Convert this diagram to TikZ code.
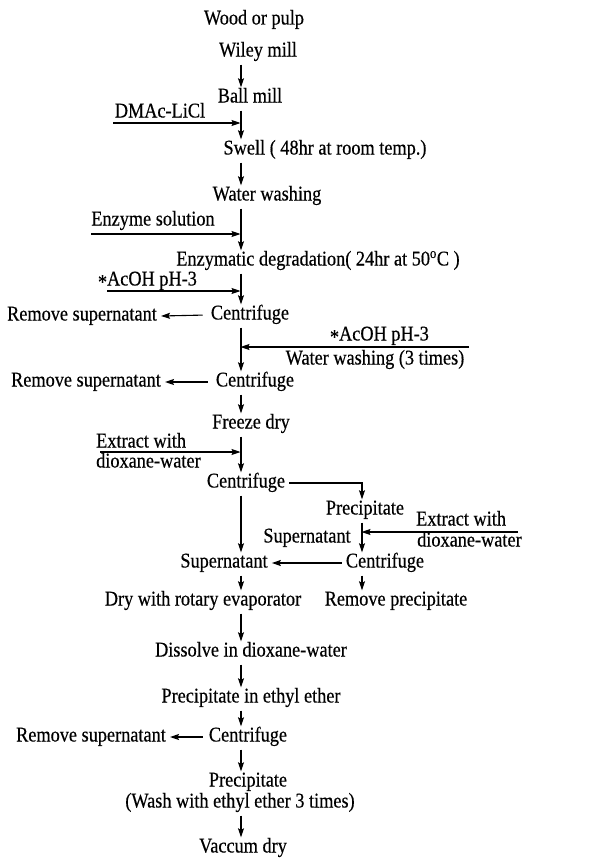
\documentclass[tikz,border=0pt]{standalone}
\usepackage{fontspec}
\setmainfont{Liberation Serif}[FakeStretch=0.87, FakeBold=0.4]
\usetikzlibrary{arrows.meta}
\tikzset{
  lbl/.style={inner xsep=4pt, inner ysep=4pt, text height=13pt, text depth=4pt},
  flow/.style={->, line width=1.1pt, shorten >=-2pt},
}
\newcommand{\lowstar}{\raisebox{-0.35ex}{*}}

\begin{document}
\begin{tikzpicture}[x=1pt, y=-1pt, >={Stealth[length=9pt,width=6pt,inset=1.5pt]},
    font=\fontsize{21}{24}\selectfont]
  \useasboundingbox (0,0) rectangle (606,859);
  \coordinate (ax) at (241,0);
  \coordinate (bx) at (362,0);

  % main line
  \node [lbl] (wood) at (254,20) {Wood or pulp};
  \node [lbl] (wiley) at (258,52) {Wiley mill};
  \node [lbl] (ball) at (250,98) {Ball mill};
  \node [lbl] (swell) at (325,150) {Swell ( 48hr at room temp.)};
  \node [lbl] (wash) at (267,196) {Water washing};
  \node [lbl] (degr) at (318,261) {Enzymatic degradation( 24hr at 50\textsuperscript{o}C )};
  \node [lbl] (c1) at (250,315) {Centrifuge};
  \node [lbl] (c2) at (255,382) {Centrifuge};
  \node [lbl] (freeze) at (251,424) {Freeze dry};
  \node [lbl] (c3) at (246,483) {Centrifuge};
  \node [lbl] (sup) at (224,563) {Supernatant};
  \node [lbl] (dry) at (203,601) {Dry with rotary evaporator};
  \node [lbl] (diss) at (251,652) {Dissolve in dioxane-water};
  \node [lbl] (pether) at (251,698) {Precipitate in ethyl ether};
  \node [lbl] (c5) at (248,737) {Centrifuge};
  \node [lbl] (prec2) at (248,782) {Precipitate};
  \node [lbl] (washee) at (240,803) {(Wash with ethyl ether 3 times)};
  \node [lbl] (vac) at (243,848) {Vaccum dry};

  % side branch
  \node [lbl] (prec) at (365,510) {Precipitate};
  \node [lbl] (supb) at (307,538) {Supernatant};
  \node [lbl] (c4) at (385,563) {Centrifuge};
  \node [lbl] (rmp) at (396,601) {Remove precipitate};

  % removed
  \node [lbl] (rm1) at (82,316) {Remove supernatant};
  \node [lbl] (rm2) at (86,382) {Remove supernatant};
  \node [lbl] (rm3) at (91,737) {Remove supernatant};

  % inputs
  \coordinate (dmacin) at (113,123);
  \node [lbl] (dmac) at (160,113) {DMAc-LiCl};
  \coordinate (enzin) at (91,234);
  \node [lbl] (enz) at (153,221) {Enzyme solution};
  \coordinate (acin) at (107,291);
  \node [lbl] (ac) at (152,281) {\llap{\lowstar}AcOH pH-3};
  \coordinate (acinb) at (469,347);
  \node [lbl] (acb) at (384,336) {\llap{\lowstar}AcOH pH-3};
  \node [lbl] (ww3) at (375,360) {Water washing (3 times)};
  \coordinate (extin) at (100,452);
  \node [lbl, anchor=west, inner xsep=0pt] (exta) at (96,443) {Extract with};
  \node [lbl, anchor=west, inner xsep=0pt] (extb) at (96,463) {dioxane-water};
  \coordinate (extinb) at (518,532);
  \node [lbl, anchor=west, inner xsep=0pt] (extc) at (416,521) {Extract with};
  \node [lbl, anchor=west, inner xsep=0pt] (extd) at (417,542) {dioxane-water};

  % arrows down
  \draw [flow] (wiley.south -| ax) -- (ball.north -| ax);
  \draw [flow] (ball.south -| ax) -- (swell.north -| ax);
  \draw [flow] (swell.south -| ax) -- (wash.north -| ax);
  \draw [flow] (wash.south -| ax) -- (degr.north -| ax);
  \draw [flow] (degr.south -| ax) -- (c1.north -| ax);
  \draw [flow] (c1.south -| ax) -- (c2.north -| ax);
  \draw [flow] (c2.south -| ax) -- (freeze.north -| ax);
  \draw [flow] (freeze.south -| ax) -- (c3.north -| ax);
  \draw [flow] (c3.south -| ax) -- (sup.north -| ax);
  \draw [flow] (sup.south -| ax) -- (dry.north -| ax);
  \draw [flow] (dry.south -| ax) -- (diss.north -| ax);
  \draw [flow] (diss.south -| ax) -- (pether.north -| ax);
  \draw [flow] (pether.south -| ax) -- (c5.north -| ax);
  \draw [flow] (c5.south -| ax) -- (prec2.north -| ax);
  \draw [flow] (washee.south -| ax) -- (vac.north -| ax);

  \draw [flow] (c3.east) -| (prec.north -| bx);
  \draw [flow] (prec.south -| bx) -- (c4.north -| bx);
  \draw [flow] (c4.south -| bx) -- (rmp.north -| bx);
  \draw [flow, shorten >=0pt] (c4.west) -- (sup.east);

  % arrows out
  \draw [flow, shorten >=0pt, shorten <=4pt] (c1.west) -- (rm1.east);
  \draw [flow, shorten >=0pt, shorten <=4pt] (c2.west) -- (rm2.east);
  \draw [flow, shorten >=0pt, shorten <=2pt] (c5.west) -- (rm3.east);

  % arrows in
  \draw [flow, shorten >=0.5pt] (dmacin) -- (dmacin -| ax);
  \draw [flow, shorten >=0.5pt] (enzin) -- (enzin -| ax);
  \draw [flow, shorten >=0.5pt] (acin) -- (acin -| ax);
  \draw [flow, shorten >=0.5pt] (extin) -- (extin -| ax);
  \draw [flow, shorten >=-0.5pt] (acinb) -- (acinb -| ax);
  \draw [flow, shorten >=-0.5pt] (extinb) -- (extinb -| bx);
\end{tikzpicture}
\end{document}
